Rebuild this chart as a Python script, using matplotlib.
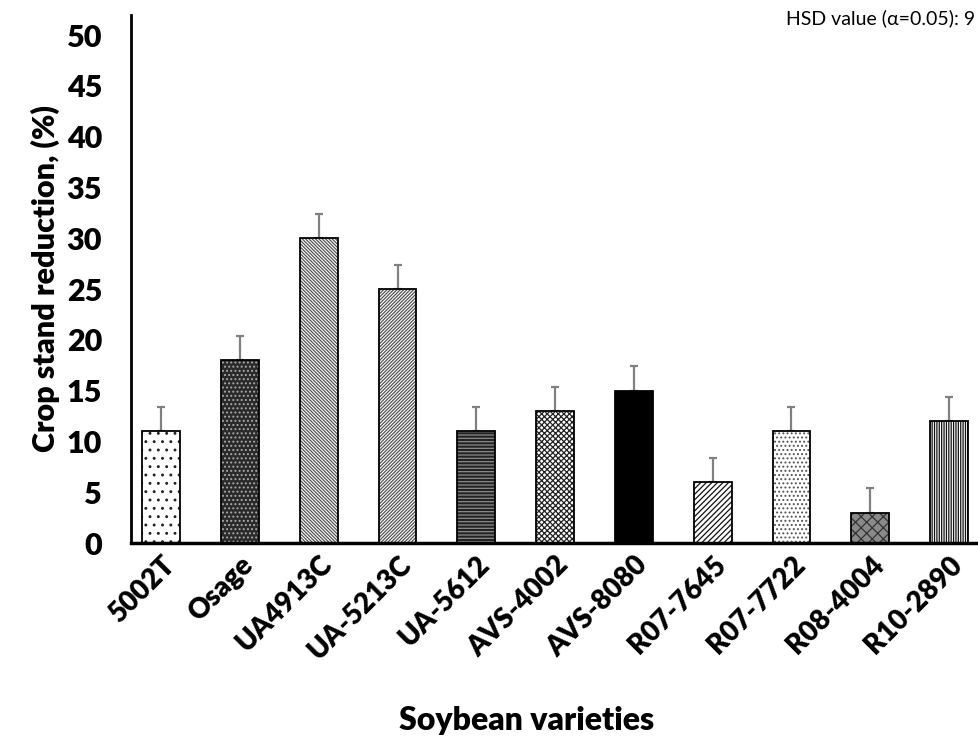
#!/usr/bin/env python3
"""Снижение густоты стояния по сортам сои (столбики с ошибками)."""
import matplotlib
matplotlib.use("Agg")
import matplotlib.pyplot as plt
import numpy as np

varieties = ["5002T", "Osage", "UA4913C", "UA-5213C", "UA-5612", "AVS-4002",
             "AVS-8080", "R07-7645", "R07-7722", "R08-4004", "R10-2890"]
reduction = [11, 18, 30, 25, 11, 13, 15, 6, 11, 3, 12]
err_up = [2.4, 2.4, 2.4, 2.4, 2.4, 2.4, 2.4, 2.4, 2.4, 2.4, 2.4]
y_ticks = [0, 5, 10, 15, 20, 25, 30, 35, 40, 45, 50]

# (заливка, цвет штриховки, штриховка)
styles = [
    ("white", "#222222", ".."),
    ("#2a2a2a", "#aaaaaa", "...."),
    ("white", "#555555", "\\" * 10),
    ("white", "#555555", "/" * 10),
    ("#222222", "#8a8a8a", "-----"),
    ("white", "#222222", "xxxxxx"),
    ("black", "black", ""),
    ("white", "#111111", "//////"),
    ("white", "#555555", "...."),
    ("#8a8a8a", "#333333", "xxx"),
    ("white", "#111111", "|||||||"),
]

plt.rcParams["font.family"] = ["Lato", "DejaVu Sans"]
plt.rcParams["hatch.linewidth"] = 0.9
BOLD = "heavy"

fig = plt.figure(figsize=(9.79, 7.4), dpi=100)
ax = fig.add_axes([0.134, 0.266, 0.866, 0.714])

x = np.arange(len(varieties))
w = 0.48
for i, (fc, hc, h) in enumerate(styles):
    ax.bar(x[i], reduction[i], width=w, color=fc, edgecolor=hc, hatch=h, linewidth=0, zorder=2)
    ax.bar(x[i], reduction[i], width=w, facecolor="none", edgecolor="black", linewidth=1.3, zorder=3)

ax.errorbar(x, reduction, yerr=[np.zeros(len(x)), err_up], fmt="none",
            ecolor="#808080", elinewidth=1.6, capsize=3, capthick=1.6, zorder=1)

ax.set_xlim(-0.38, 10.38)
ax.set_ylim(0, 52)
ax.set_yticks(y_ticks)
ax.set_yticklabels([str(v) for v in y_ticks], fontsize=22, fontweight=BOLD)
ax.set_xticks(x)
ax.set_xticklabels(varieties, rotation=45, ha="right", rotation_mode="anchor",
                   fontsize=20, fontweight=BOLD)
ax.tick_params(axis="y", length=0, pad=21)
ax.tick_params(axis="x", length=0, pad=6)

for s in ["top", "right"]:
    ax.spines[s].set_visible(False)
ax.spines["left"].set_linewidth(2)
ax.spines["bottom"].set_linewidth(2.5)

ax.set_ylabel("Crop stand reduction, (%)", fontsize=22, fontweight=BOLD, labelpad=5)
fig.text(0.538, 0.027, "Soybean varieties", ha="center", va="center",
         fontsize=23, fontweight=BOLD)

fig.text(0.996, 0.975, "HSD value (\u03b1=0.05): 9", ha="right", va="center", fontsize=14)

fig.savefig("out.png", dpi=100)
